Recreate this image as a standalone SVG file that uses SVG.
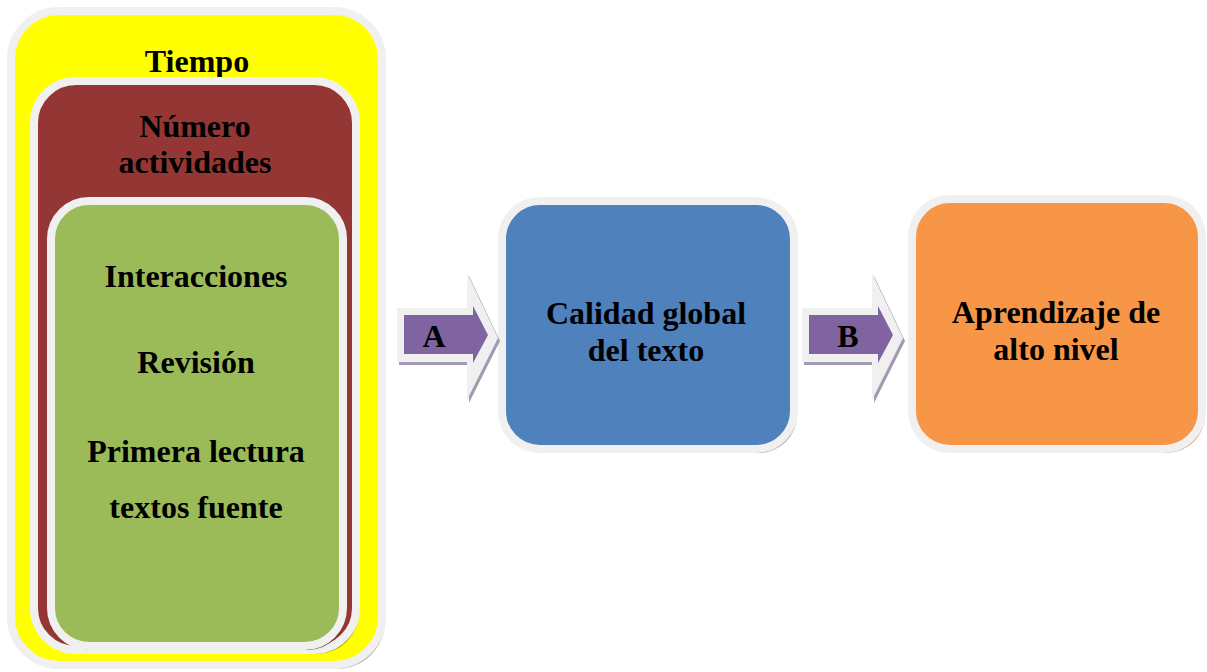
<svg xmlns="http://www.w3.org/2000/svg" width="1207" height="672" viewBox="0 0 1207 672">
<style>
.t{font-family:"Liberation Serif","Times New Roman",serif;font-weight:bold;font-size:32px;fill:#000;text-anchor:middle}
.box{stroke:#F0F0F0;stroke-width:8}
</style>
<rect width="1207" height="672" fill="#fff"/>
<g id="tiempo">
<rect x="14" y="15" width="371" height="654" rx="48" fill="#B4B69E"/>
<rect class="box" x="11" y="11" width="371" height="654" rx="48" fill="#FFFF00"/>
<text class="t" x="197" y="72">Tiempo</text>
</g>
<g id="numero">
<rect x="37" y="85" width="322" height="569" rx="42" fill="#A8A800"/>
<rect class="box" x="34" y="81" width="322" height="569" rx="42" fill="#943634"/>
<text class="t" x="195" y="137">Número</text>
<text class="t" x="195" y="173">actividades</text>
</g>
<g id="variables">
<rect x="54" y="205" width="292" height="445" rx="38" fill="#7A2A28"/>
<rect class="box" x="51" y="201" width="292" height="445" rx="38" fill="#9BBB59"/>
<text class="t" x="196" y="287">Interacciones</text>
<text class="t" x="196" y="373">Revisión</text>
<text class="t" x="196" y="462">Primera lectura</text>
<text class="t" x="196" y="518">textos fuente</text>
</g>
<g id="calidad">
<rect x="505" y="205" width="292" height="248" rx="38" fill="#8FA6C4"/>
<rect class="box" x="502" y="201" width="292" height="248" rx="38" fill="#4F81BD"/>
<text class="t" x="646" y="324">Calidad global</text>
<text class="t" x="646" y="361">del texto</text>
</g>
<g id="aprendizaje">
<rect x="915" y="203" width="290" height="250" rx="38" fill="#D2A889"/>
<rect class="box" x="912" y="199" width="290" height="250" rx="38" fill="#F79646"/>
<text class="t" x="1056" y="323">Aprendizaje de</text>
<text class="t" x="1056" y="360">alto nivel</text>
</g>
<g id="connectors">
<g id="arrowA">
<polygon points="399,311 469,311 469,276 500,341 469,403 469,365 399,365" fill="#A29AB3"/>
<polygon points="397,308 467,308 467,273 498,338 467,400 467,362 397,362" fill="#F0F0F0"/>
<polygon points="404,315 473,315 473,306 488,335 473,363 473,354 404,354" fill="#8064A2"/>
<text class="t" x="434" y="347">A</text>
</g>
<g id="arrowB">
<polygon points="804,311 874,311 874,276 905,341 874,403 874,365 804,365" fill="#A29AB3"/>
<polygon points="802,308 872,308 872,273 903,338 872,400 872,362 802,362" fill="#F0F0F0"/>
<polygon points="809,315 878,315 878,306 893,335 878,363 878,354 809,354" fill="#8064A2"/>
<text class="t" x="848" y="347">B</text>
</g>
</g>
</svg>
